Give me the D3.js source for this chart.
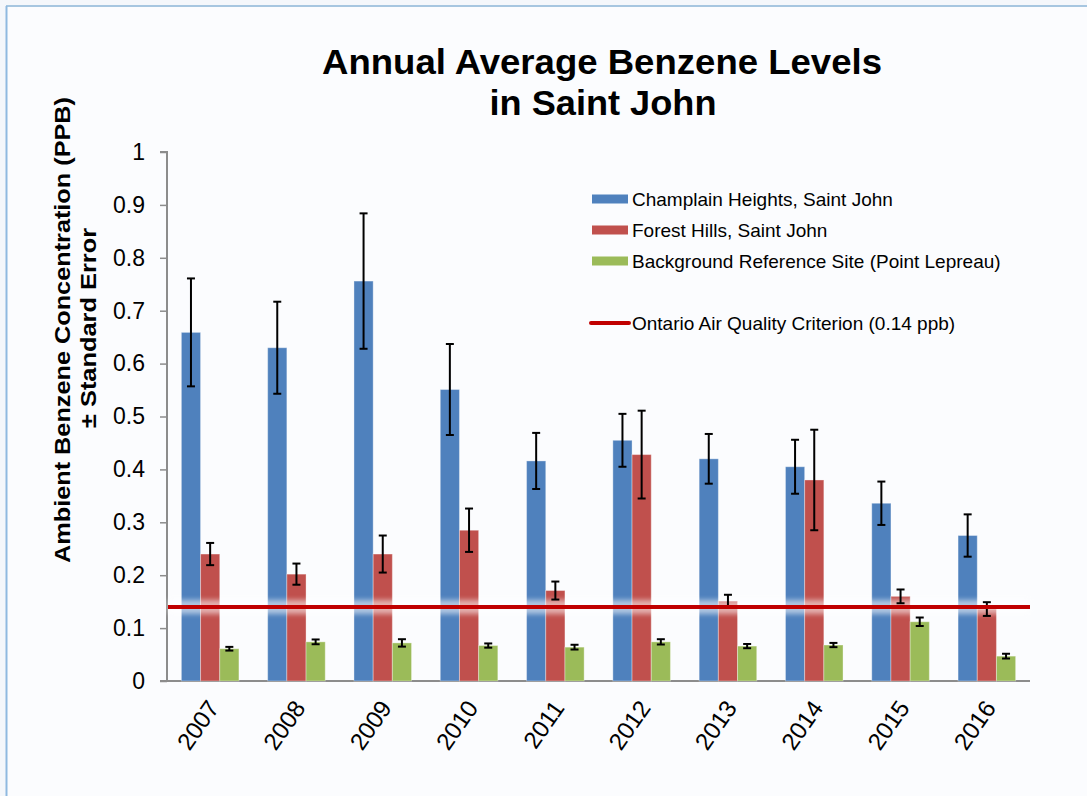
<!DOCTYPE html>
<html>
<head>
<meta charset="utf-8">
<script src="https://cdn.jsdelivr.net/npm/d3@7"></script>
<style>
  html, body { margin: 0; padding: 0; background: #f4f7fb; }
  svg { display: block; font-family: "Liberation Sans", Arial, sans-serif; }
</style>
</head>
<body>
<svg id="chart" width="1087" height="796"></svg>
<script>
// data
var years = ["2007", "2008", "2009", "2010", "2011", "2012", "2013", "2014", "2015", "2016"];
var seriesNames = ["Champlain Heights, Saint John", "Forest Hills, Saint John", "Background Reference Site (Point Lepreau)"];
var champlain = [0.659, 0.630, 0.756, 0.551, 0.416, 0.455, 0.420, 0.405, 0.336, 0.275];
var champlainErr = [0.102, 0.087, 0.128, 0.086, 0.053, 0.050, 0.047, 0.051, 0.041, 0.040];
var forest = [0.240, 0.202, 0.240, 0.285, 0.171, 0.428, 0.151, 0.380, 0.160, 0.136];
var forestErr = [0.021, 0.020, 0.035, 0.041, 0.017, 0.083, 0.012, 0.095, 0.013, 0.013];
var background = [0.061, 0.074, 0.072, 0.067, 0.064, 0.074, 0.066, 0.068, 0.112, 0.047];
var backgroundErr = [0.0035, 0.0045, 0.007, 0.004, 0.0045, 0.005, 0.004, 0.004, 0.008, 0.0045];
var criterion = 0.14;
var criterionLabel = "Ontario Air Quality Criterion (0.14 ppb)";
var yTicks = [0, 0.1, 0.2, 0.3, 0.4, 0.5, 0.6, 0.7, 0.8, 0.9, 1];
var colors = ["#4F81BD", "#C0504D", "#9BBB59"];

var svg = d3.select("#chart"),
    width = 1087,
    height = 796,
    m = {left: 167, right: 1030, top: 152, bottom: 681};

// slide-ish frame
svg.append("rect").attr("x", 6).attr("y", 6).attr("width", width - 6).attr("height", height - 6).attr("fill", "#fbfcfe");
svg.append("line").attr("x1", 6).attr("x2", width).attr("y1", 6).attr("y2", 6).attr("stroke", "#a6c6e0").attr("stroke-width", 2);
svg.append("line").attr("x1", 6.5).attr("x2", 6.5).attr("y1", 6).attr("y2", height).attr("stroke", "#8fb9e0").attr("stroke-width", 2);

var defs = svg.append("defs");
defs.append("filter").attr("id", "glow").attr("filterUnits", "userSpaceOnUse")
  .attr("x", 0).attr("y", 560).attr("width", width).attr("height", 100)
  .append("feGaussianBlur").attr("stdDeviation", 2.5);

var x = d3.scaleBand().domain(years).range([m.left, m.right]).paddingInner(0).paddingOuter(0);
var groupW = x.bandwidth() * 0.667;
var x1 = d3.scaleBand().domain([0, 1, 2]).range([0, groupW]);
var y = d3.scaleLinear().domain([0, 1]).range([m.bottom, m.top]);

var series = [
  {vals: champlain, err: champlainErr},
  {vals: forest, err: forestErr},
  {vals: background, err: backgroundErr}
];

// y axis
var yAxis = d3.axisLeft(y).tickValues(yTicks).tickSize(7).tickFormat(function(d) { return d3.format("")(+d.toFixed(1)); });
var ya = svg.append("g").attr("transform", "translate(" + m.left + ",0)").call(yAxis);
ya.select(".domain").attr("stroke", "#8c8c8c").attr("stroke-width", 2).attr("d", "M0," + (m.bottom + 1) + "V" + m.top + "H-7");
ya.selectAll(".tick line").attr("stroke", "#8c8c8c").attr("stroke-width", 1.5);
ya.selectAll(".tick text").attr("x", -22).attr("font-size", 23).attr("fill", "#000").attr("font-family", "Liberation Sans, Arial");

// x axis
var xa = svg.append("g").attr("transform", "translate(0," + m.bottom + ")").call(d3.axisBottom(x).tickSize(0));
xa.select(".domain").attr("stroke", "#8c8c8c").attr("stroke-width", 2).attr("d", "M" + (m.left - 7) + ",0H" + m.right);
xa.selectAll(".tick text")
  .attr("font-size", 24).attr("fill", "#000").attr("font-family", "Liberation Sans, Arial")
  .attr("text-anchor", "end").attr("dy", 0).attr("y", 0)
  .attr("transform", "translate(10,27) rotate(-55)");

// bars
var groups = svg.append("g").selectAll("g").data(series).join("g").attr("fill", function(d, i) { return colors[i]; });
groups.each(function(s, si) {
  var g = d3.select(this);
  g.selectAll("rect").data(s.vals).join("rect")
    .attr("x", function(d, i) { return x(years[i]) + (x.bandwidth() - groupW) / 2 + x1(si); })
    .attr("width", x1.bandwidth())
    .attr("y", function(d) { return y(d); })
    .attr("height", function(d) { return y(0) - y(d); })
    .attr("stroke", "rgba(255,255,255,0.35)").attr("stroke-width", 1);
});

// soft glow behind the criterion line
svg.append("rect").attr("x", m.left + 1).attr("width", m.right - m.left - 1)
  .attr("y", y(criterion) - 7).attr("height", 14)
  .attr("fill", "#ffffff").attr("opacity", 0.55).attr("filter", "url(#glow)");

// error bars
groups.each(function(s, si) {
  var eb = svg.append("g").attr("stroke", "#000").attr("stroke-width", 2);
  s.vals.forEach(function(v, i) {
    var cx = x(years[i]) + (x.bandwidth() - groupW) / 2 + x1(si) + x1.bandwidth() / 2;
    var hi = y(v + s.err[i]), lo = y(v - s.err[i]);
    eb.append("line").attr("x1", cx).attr("x2", cx).attr("y1", hi).attr("y2", lo);
    eb.append("line").attr("x1", cx - 4).attr("x2", cx + 4).attr("y1", hi).attr("y2", hi);
    eb.append("line").attr("x1", cx - 4).attr("x2", cx + 4).attr("y1", lo).attr("y2", lo);
  });
});

// criterion line
svg.append("line").attr("x1", m.left + 1).attr("x2", m.right).attr("y1", y(criterion)).attr("y2", y(criterion))
  .attr("stroke", "#C00000").attr("stroke-width", 4);

// title
var title = svg.append("text").attr("text-anchor", "middle").attr("font-weight", "bold").attr("font-size", 35).attr("fill", "#000");
title.append("tspan").attr("x", 602).attr("y", 74).attr("textLength", 560).attr("lengthAdjust", "spacingAndGlyphs").text("Annual Average Benzene Levels");
title.append("tspan").attr("x", 603).attr("y", 115).attr("textLength", 227).attr("lengthAdjust", "spacingAndGlyphs").text("in Saint John");

// y label
var yl = svg.append("text").attr("text-anchor", "middle").attr("font-weight", "bold").attr("font-size", 22).attr("fill", "#000")
  .attr("transform", "translate(0,330) rotate(-90)");
yl.append("tspan").attr("x", 0).attr("y", 70).attr("textLength", 466).attr("lengthAdjust", "spacingAndGlyphs").text("Ambient Benzene Concentration (PPB)");
yl.append("tspan").attr("x", 2).attr("y", 96).attr("textLength", 200).attr("lengthAdjust", "spacingAndGlyphs").text("± Standard Error");

// legend
var legend = svg.append("g").attr("transform", "translate(592,0)");
var legY = [199, 230, 261];
seriesNames.forEach(function(name, i) {
  legend.append("rect").attr("x", 0).attr("y", legY[i] - 4.5).attr("width", 36).attr("height", 9).attr("fill", colors[i]);
  legend.append("text").attr("x", 40).attr("y", legY[i]).attr("dy", "0.35em").attr("font-size", 19).attr("fill", "#000").text(name);
});
legend.append("line").attr("x1", -1).attr("x2", 37).attr("y1", 323).attr("y2", 323).attr("stroke", "#C00000").attr("stroke-width", 4).attr("stroke-linecap", "round");
legend.append("text").attr("x", 40).attr("y", 323).attr("dy", "0.35em").attr("font-size", 19).attr("fill", "#000").text(criterionLabel);
</script>
</body>
</html>
